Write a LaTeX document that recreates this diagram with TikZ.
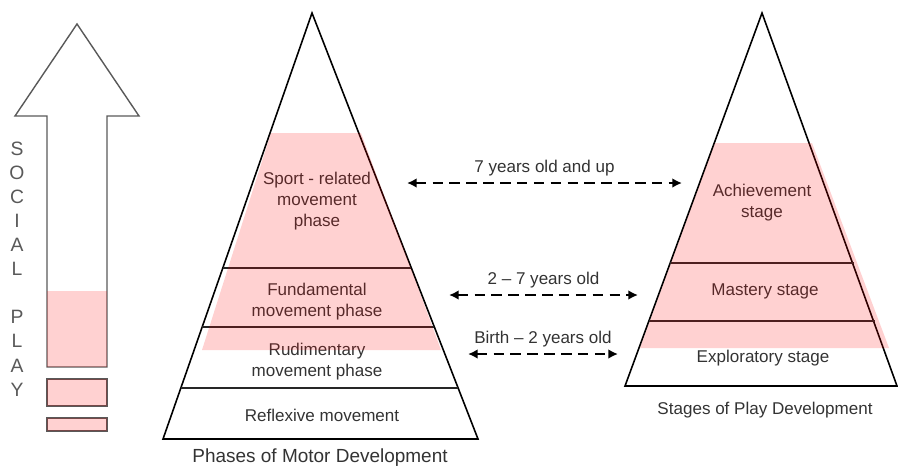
\documentclass[tikz,border=0pt]{standalone}
\usepackage{fontspec}
\setmainfont{Liberation Sans}
\usetikzlibrary{arrows.meta}

\begin{document}
\begin{tikzpicture}[>={Latex[length=5.5pt,width=5.5pt]},x=0.02cm,y=-0.02cm,font=\fontsize{9.7}{11.9}\selectfont,text=black!80]
	\tikzset{pyramid/.style={draw=black,line width=0.9pt}}
	\tikzset{divider/.style={draw=black!85,line width=0.8pt}}
	\tikzset{pinkband/.style={fill=red,fill opacity=0.18}}
	\tikzset{ages/.style={<->,line width=1.4pt,dash pattern=on 6pt off 3.6pt}}
	\tikzset{socialarrow/.style={draw=black!65,line width=0.8pt}}
	\useasboundingbox (0,0) rectangle (898,471);
	% social play arrow
	\draw[socialarrow] (47,367) -- (47,116) -- (15,116) -- (77,24) -- (139,116) -- (107,116) -- (107,367) -- cycle;
	\draw[socialarrow] (47,379) rectangle (107,406);
	\draw[socialarrow] (47,418) rectangle (107,431);
	\node[align=center,font=\fontsize{11}{13.7}\selectfont,text=black!65] (social) at (17,269) {S\\O\\C\\I\\A\\L\\~\\P\\L\\A\\Y};
	% motor development
	\draw[pyramid] (312,13) -- (478,439) -- (163,439) -- cycle;
	\draw[divider] (222.8,268) -- (411.4,268);
	\draw[divider] (202.2,327) -- (434.4,327);
	\draw[divider] (180.8,388) -- (458.1,388);
	\node[align=center] (sport) at (317,201) {Sport - related\\movement\\phase};
	\node[align=center] (fundamental) at (317,302) {Fundamental\\movement phase};
	\node[align=center] (rudimentary) at (317,362) {Rudimentary\\movement phase};
	\node (reflexive) at (322,415) {Reflexive movement};
	\node[font=\fontsize{10.8}{13}\selectfont] (motor) at (320,458) {Phases of Motor Development};
	% play development
	\draw[pyramid] (762,13) -- (897,386) -- (625,386) -- cycle;
	\draw[divider] (670.2,263) -- (853.8,263);
	\draw[divider] (648.9,321) -- (875.1,321);
	\node[align=center] (achievement) at (762,203) {Achievement\\stage};
	\node (mastery) at (765,291) {Mastery stage};
	\node (exploratory) at (763,358) {Exploratory stage};
	\node (play) at (765,410) {Stages of Play Development};
	% ages
	\coordinate (sportR) at (407,183);
	\coordinate (achL) at (682,183);
	\coordinate (fundR) at (449,295);
	\coordinate (mastL) at (638,295);
	\coordinate (rudR) at (468,354);
	\coordinate (explL) at (618,354);
	\path
		(sportR) edge[ages] node[above] (ageUp) {7 years old and up} (achL)
		(fundR) edge[ages] node[above] (ageMid) {2 – 7 years old} (mastL)
		(rudR) edge[ages] node[above] (ageBirth) {Birth – 2 years old} (explL);
	% pink overlay
	\fill[pinkband] (271,133) -- (361,133) -- (441,350) -- (202,350) -- cycle;
	\fill[pinkband] (715,143) -- (812,143) -- (889,348) -- (640,348) -- cycle;
	\fill[pinkband] (47,291) rectangle (107,367);
	\fill[pinkband] (47,379) rectangle (107,406);
	\fill[pinkband] (47,418) rectangle (107,431);
\end{tikzpicture}
\end{document}
